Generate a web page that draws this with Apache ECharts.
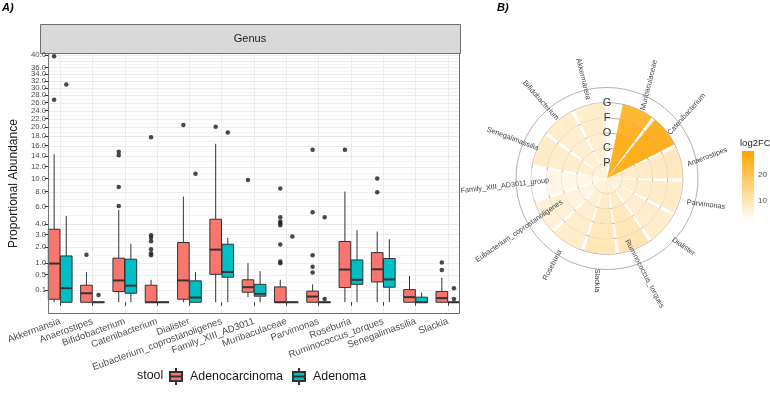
<!DOCTYPE html>
<html><head><meta charset="utf-8">
<script src="https://cdn.jsdelivr.net/npm/echarts@6/dist/echarts.min.js"></script>
<style>html,body{margin:0;padding:0;background:#fff}#c{width:770px;height:411px}</style>
</head><body><div id="c"></div>
<script>
// ---------- Panel A data ----------
const genera = ['Akkermansia','Anaerostipes','Bifidobacterium','Catenibacterium','Dialister','Eubacterium_coprostanoligenes','Family_XIII_AD3011','Muribaculaceae','Parvimonas','Roseburia','Ruminococcus_torques','Senegalimassilia','Slackia'];
// [lower whisker, Q1, median, Q3, upper whisker]
const adenocarcinomaStats = [
  [0, 0.006, 0.98, 3.48, 14.3],
  [0, 0, 0.053, 0.19, 0.59],
  [0, 0.075, 0.31, 1.27, 5.58],
  [0, 0, 0, 0.19, 0.33],
  [0, 0.006, 0.31, 2.33, 7.3],
  [0, 0.51, 1.81, 4.5, 16.4],
  [0.017, 0.066, 0.148, 0.33, 1.0],
  [0, 0, 0, 0.154, 0.33],
  [0, 0, 0.021, 0.08, 0.21],
  [0, 0.141, 0.70, 2.41, 8.0],
  [0, 0.27, 0.71, 1.61, 3.27],
  [0, 0, 0.017, 0.105, 0.45],
  [0, 0, 0.011, 0.075, 0.39]
];
const adenomaStats = [
  [0, 0, 0.13, 1.40, 4.87],
  [0, 0, 0, 0, 0],
  [0, 0.053, 0.18, 1.21, 2.23],
  [0, 0, 0, 0, 0],
  [0, 0, 0.0145, 0.30, 0.59],
  [0, 0.41, 0.60, 2.20, 2.71],
  [0, 0.024, 0.046, 0.21, 0.63],
  [0, 0, 0, 0, 0],
  [0, 0, 0, 0, 0],
  [0, 0.21, 0.33, 1.17, 3.39],
  [0, 0.148, 0.34, 1.25, 2.60],
  [0, 0, 0, 0.017, 0.062],
  [0, 0, 0, 0, 0]
];
const adenocarcinomaOutliers = [
  [39.5, 26.8], [1.47], [14.8, 14.1, 8.69, 6.06], [17.8, 2.94, 2.71, 2.43, 1.84, 1.57, 1.44],
  [20.5], [20.1], [9.78], [8.44, 4.72, 4.25, 4.08, 3.88, 2.18, 1.08, 1.0],
  [15.2, 5.29, 1.44, 0.82, 0.58], [15.2], [9.99, 7.91], [], [1.03, 0.68]
];
const adenomaOutliers = [
  [31.0], [0.035], [], [], [10.8], [18.8], [], [2.82], [4.72, 0.0074], [], [], [], [0.13, 0.0074]
];
const yTickLabels = [0.1, 0.5, 1, 2, 3, 4, 6, 8, 10, 12, 14, 16, 18, 20, 22, 24, 26, 28, 30, 32, 34, 36, 38, 40];
const groups = ['Adenocarcinoma', 'Adenoma'];
const groupColors = ['#F8766D', '#00BFC4'];

// ---------- Panel B data ----------
const polarGenera = ['Muribaculaceae','Catenibacterium','Anaerostipes','Parvimonas','Dialister','Ruminococcus_torques','Slackia','Roseburia','Eubacterium_coprostanoligenes','Family_XIII_AD3011_group','Senegalimassilia','Bifidobacterium','Akkermansia'];
const ranks = ['P', 'C', 'O', 'F', 'G'];
const fcP = [27.5, 27.5, 8.0, 7.5, 7.0, 8.0, 8.5, 7.0, 6.0, 5.5, 7.5, 7.0, 7.5];
const fcC = [27.5, 28.0, 8.5, 8.0, 7.5, 9.0, 9.0, 7.5, 6.0, 5.5, 8.0, 7.5, 7.5];
const fcO = [28.0, 28.8, 9.0, 8.5, 8.0, 10.0, 10.0, 8.0, 6.5, 5.5, 8.5, 8.0, 8.0];
const fcF = [27.0, 28.5, 9.5, 9.0, 8.5, 10.5, 10.5, 8.5, 7.0, 5.5, 8.5, 8.0, 8.5];
const fcG = [25.5, 27.5, 10.0, 9.0, 8.5, 11.0, 10.5, 8.5, 7.0, 2.6, 9.0, 8.5, 8.5];
const colorbarTicks = [10, 20];

// ---------- build ----------
const sq = Math.sqrt;
const DODGE = 0.1875, HALF = 0.18;
const yTickPos = yTickLabels.map(sq);
const yMinor = [yTickPos[0] - (yTickPos[1] - yTickPos[0]) / 2];
for (let i = 0; i < yTickPos.length - 1; i++) yMinor.push((yTickPos[i] + yTickPos[i + 1]) / 2);
const xTicks = genera.map((g, i) => i + 1);
const hGrid = yMinor.map(v => [v, 0]).concat(yTickPos.map(v => [v, 1]));

function boxItems(stats) { return stats.map((s, i) => [i + 1].concat(s.map(sq))); }
function outlierItems(list, off) {
  const r = [];
  list.forEach((arr, i) => arr.forEach(v => r.push([i + 1 + off, sq(v)])));
  return r;
}
function makeBoxRenderer(off, color) {
  return function (params, api) {
    const cx = api.value(0) + off;
    const lo = api.value(1), q1 = api.value(2), med = api.value(3), q3 = api.value(4), hi = api.value(5);
    const c = v => api.coord([cx, v]);
    const a = api.coord([cx - HALF, q3]), b = api.coord([cx + HALF, q1]);
    const m1 = api.coord([cx - HALF, med]), m2 = api.coord([cx + HALF, med]);
    const ls = { stroke: '#333333', lineWidth: 1 };
    return { type: 'group', children: [
      { type: 'line', shape: { x1: c(hi)[0], y1: c(hi)[1], x2: c(q3)[0], y2: c(q3)[1] }, style: ls },
      { type: 'line', shape: { x1: c(lo)[0], y1: c(lo)[1], x2: c(q1)[0], y2: c(q1)[1] }, style: ls },
      { type: 'rect', shape: { x: a[0], y: a[1], width: b[0] - a[0], height: Math.max(b[1] - a[1], 0.01) }, style: { fill: color, stroke: '#333333', lineWidth: 1 } },
      { type: 'line', shape: { x1: m1[0], y1: m1[1], x2: m2[0], y2: m2[1] }, style: { stroke: '#333333', lineWidth: 2 } }
    ]};
  };
}
function renderHGrid(params, api) {
  const cs = params.coordSys;
  const p = api.coord([1, api.value(0)]);
  const y = Math.round(p[1]) + 0.5;
  return { type: 'line', shape: { x1: cs.x + 1, y1: y, x2: cs.x + cs.width - 1, y2: y },
    style: { stroke: api.value(1) ? '#EBEBEB' : '#F4F4F4', lineWidth: 1 } };
}
function renderFrame(params, api) {
  const cs = params.coordSys;
  return { type: 'rect', shape: { x: cs.x + 0.5, y: cs.y + 0.5, width: cs.width - 1, height: cs.height - 1 },
    style: { fill: 'none', stroke: '#6E6E6E', lineWidth: 1 } };
}

const fcRows = [fcP, fcC, fcO, fcF, fcG];
const cellData = [];
fcRows.forEach((row, k) => row.forEach((v, i) => cellData.push([i + 1, k + 1, v])));
const allFc = [].concat(...fcRows);
const cbMin = Math.min(...allFc), cbMax = Math.max(...allFc);
const LOW = '#FFFFFF', HIGH = '#FFA500';
const LABEL_R = 6.75;

function renderCell(params, api) {
  const ai = api.value(0), lv = api.value(1);
  const c = api.coord([0, ai]);
  const p1 = api.coord([lv, ai - 0.45]);
  const p2 = api.coord([lv, ai + 0.45]);
  const p0 = api.coord([lv - 1, ai]);
  const r = Math.hypot(p1[0] - c[0], p1[1] - c[1]);
  const r0 = Math.hypot(p0[0] - c[0], p0[1] - c[1]);
  let s = Math.atan2(p1[1] - c[1], p1[0] - c[0]);
  let e = Math.atan2(p2[1] - c[1], p2[0] - c[0]);
  if (e < s) e += 2 * Math.PI;
  return { type: 'sector', shape: { cx: c[0], cy: c[1], r0: r0, r: r, startAngle: s, endAngle: e, clockwise: true },
    style: { fill: api.visual('color'), opacity: 0.9 } };
}
function renderGenusLabel(params, api) {
  const idx = api.value(0);
  const p = api.coord([api.value(1), idx]);
  let ang = 90 - 360 * (idx - 0.5) / polarGenera.length;
  if (ang < -90) ang += 180;
  return { type: 'text', x: p[0], y: p[1], rotation: ang * Math.PI / 180,
    style: { text: polarGenera[idx - 1], align: 'center', verticalAlign: 'middle', fontSize: 7.3, fill: '#444444', fontFamily: 'Liberation Sans' } };
}
function renderRank(params, api) {
  const p = api.coord([api.value(1), api.value(0)]);
  return { type: 'text', x: p[0], y: p[1],
    style: { text: ranks[api.value(1) - 1], align: 'center', verticalAlign: 'middle', fontSize: 11, fill: '#333333', fontFamily: 'Liberation Sans' } };
}
function renderColorbar(params, api) {
  const p0 = api.coord([0, api.value(1)]), p1 = api.coord([1, api.value(2)]);
  return { type: 'rect', shape: { x: p0[0], y: p1[1], width: p1[0] - p0[0], height: p0[1] - p1[1] },
    style: { fill: { type: 'linear', x: 0, y: 0, x2: 0, y2: 1, colorStops: [{ offset: 0, color: HIGH }, { offset: 1, color: LOW }] } } };
}

const FONT = 'Liberation Sans, Arial, sans-serif';
const chart = echarts.init(document.getElementById('c'));
const option = {
  animation: false,
  backgroundColor: '#ffffff',
  textStyle: { fontFamily: FONT },
  grid: [
    { left: 40, top: 53, width: 420, height: 261, show: false },
    { left: 742, top: 151, width: 15, height: 70 }
  ],
  xAxis: [
    { gridIndex: 0, type: 'value', min: 0.625, max: 13.375,
      axisLine: { show: false },
      axisTick: { show: true, customValues: xTicks, length: 3.5, lineStyle: { color: '#333333' } },
      axisLabel: { customValues: xTicks, formatter: v => genera[Math.round(v) - 1], rotate: 20, fontSize: 9.6, color: '#4D4D4D', margin: 7, fontFamily: FONT },
      splitLine: { show: true, lineStyle: { color: '#EBEBEB', width: 1 } } },
    { gridIndex: 1, type: 'value', min: 0, max: 1, show: false }
  ],
  yAxis: [
    { gridIndex: 0, type: 'value', min: -0.30, max: 6.37,
      axisLine: { show: false },
      axisTick: { show: true, customValues: yTickPos, length: 3.5, lineStyle: { color: '#333333' } },
      axisLabel: { customValues: yTickPos, formatter: v => (v * v).toFixed(1), fontSize: 7.8, color: '#4D4D4D', margin: 2, fontFamily: FONT,
        showMinLabel: true, showMaxLabel: true, hideOverlap: false },
      splitLine: { show: false },
      name: 'Proportional Abundance', nameLocation: 'middle', nameGap: 24,
      nameTextStyle: { fontSize: 12, color: '#1A1A1A', fontFamily: FONT } },
    { gridIndex: 1, type: 'value', min: cbMin, max: cbMax, position: 'right',
      axisLine: { show: false },
      axisTick: { show: true, inside: true, length: 3, customValues: colorbarTicks, lineStyle: { color: '#ffffff' } },
      axisLabel: { customValues: colorbarTicks, fontSize: 8, color: '#4D4D4D', margin: 4, fontFamily: FONT },
      splitLine: { show: false } }
  ],
  polar: { center: [607, 178.5], radius: [0, 91] },
  angleAxis: { type: 'value', min: 0.1, max: 13.5, startAngle: 90, clockwise: true, show: false },
  radiusAxis: { type: 'value', min: 0, max: 6, interval: 1,
    axisLine: { show: false }, axisTick: { show: false }, axisLabel: { show: false },
    splitLine: { show: true, lineStyle: { color: '#B3B3B3', width: 1 } } },
  visualMap: { type: 'continuous', show: false, min: cbMin, max: cbMax, dimension: 2, seriesIndex: 4, inRange: { color: [LOW, HIGH] } },
  legend: {
    left: 164, top: 362, itemWidth: 12, itemHeight: 17, itemGap: 9,
    data: groups.map(g => ({ name: g, icon: 'path://M0,4H12V13H0Z M6,0V4 M6,13V17 M0,8.5H12' })),
    textStyle: { fontSize: 12.4, color: '#1A1A1A', fontFamily: FONT, padding: [0, 0, 0, 3] },
    selectedMode: false
  },
  graphic: [
    { type: 'rect', left: 40, top: 24, shape: { width: 420, height: 29 }, style: { fill: '#D9D9D9', stroke: '#6E6E6E', lineWidth: 1 } },
    { type: 'text', x: 250, y: 38.5, style: { text: 'Genus', fontSize: 11, fill: '#1A1A1A', align: 'center', verticalAlign: 'middle', fontFamily: FONT } },
    { type: 'text', x: 2, y: 8, style: { text: 'A)', fontSize: 11, fontWeight: 'bold', fontStyle: 'italic', fill: '#000', verticalAlign: 'middle', fontFamily: FONT } },
    { type: 'text', x: 497, y: 8, style: { text: 'B)', fontSize: 11, fontWeight: 'bold', fontStyle: 'italic', fill: '#000', verticalAlign: 'middle', fontFamily: FONT } },
    { type: 'text', x: 137, y: 376, style: { text: 'stool', fontSize: 12.4, fill: '#1A1A1A', verticalAlign: 'middle', fontFamily: FONT } },
    { type: 'text', x: 740, y: 143, style: { text: 'log2FC', fontSize: 9.5, fill: '#1A1A1A', verticalAlign: 'middle', fontFamily: FONT } }
  ],
  series: [
    { type: 'custom', xAxisIndex: 0, yAxisIndex: 0, data: hGrid, encode: { y: 0 }, renderItem: renderHGrid, z: 1, silent: true },
    { name: groups[0], type: 'custom', xAxisIndex: 0, yAxisIndex: 0, data: boxItems(adenocarcinomaStats),
      encode: { x: 0, y: [1, 2, 3, 4, 5] }, renderItem: makeBoxRenderer(-DODGE, groupColors[0]),
      itemStyle: { color: groupColors[0], borderColor: '#333333', borderWidth: 1 }, z: 3 },
    { name: groups[1], type: 'custom', xAxisIndex: 0, yAxisIndex: 0, data: boxItems(adenomaStats),
      encode: { x: 0, y: [1, 2, 3, 4, 5] }, renderItem: makeBoxRenderer(DODGE, groupColors[1]),
      itemStyle: { color: groupColors[1], borderColor: '#333333', borderWidth: 1 }, z: 3 },
    { type: 'scatter', xAxisIndex: 0, yAxisIndex: 0, symbolSize: 4.5, itemStyle: { color: '#1A1A1A' },
      data: outlierItems(adenocarcinomaOutliers, -DODGE).concat(outlierItems(adenomaOutliers, DODGE)), z: 5 },
    { type: 'custom', coordinateSystem: 'polar', polarIndex: 0, data: cellData, encode: { angle: 0, radius: 1 }, renderItem: renderCell },
    { type: 'custom', coordinateSystem: 'polar', polarIndex: 0, data: polarGenera.map((g, i) => [i + 1, LABEL_R]), encode: { angle: 0, radius: 1 }, renderItem: renderGenusLabel, z: 6 },
    { type: 'custom', coordinateSystem: 'polar', polarIndex: 0, data: ranks.map((r, k) => [0.1, k + 1]), encode: { angle: 0, radius: 1 }, renderItem: renderRank, z: 6 },
    { type: 'custom', xAxisIndex: 1, yAxisIndex: 1, data: [[0, cbMin, cbMax]], encode: { x: 0, y: [1, 2] }, renderItem: renderColorbar },
    { type: 'custom', xAxisIndex: 0, yAxisIndex: 0, data: [[1, 0]], encode: { x: 0, y: 1 }, renderItem: renderFrame, z: 8, silent: true }
  ]
};
chart.setOption(option);
</script></body></html>
